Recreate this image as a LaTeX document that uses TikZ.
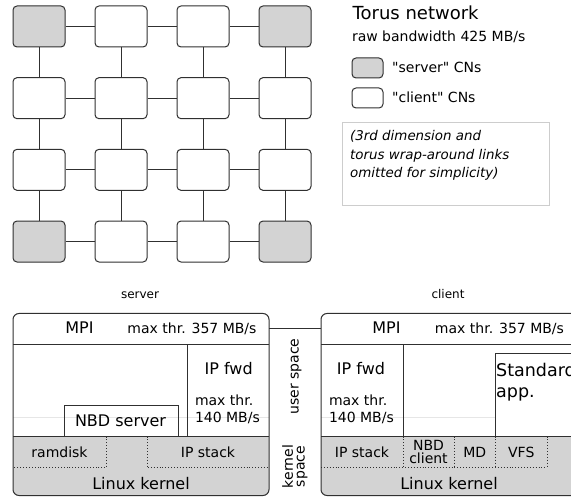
\documentclass[tikz,border=0pt]{standalone}
\usepackage{fontspec}
\setmainfont{DejaVu Sans}
% same family without the TeX quote mapping, for straight double quotes
\newfontfamily\plainsans{DejaVu Sans}
\definecolor{kern}{HTML}{D3D3D3}
\definecolor{ink}{HTML}{303030}
\definecolor{faint}{HTML}{E6E6E6}
\definecolor{notegray}{HTML}{CDCDCD}
\begin{document}
\begin{tikzpicture}[x=1pt, y=-1pt,
  cn/.style={draw=ink, line width=1pt, rounded corners=4pt, minimum width=52pt, minimum height=41pt, inner sep=0pt},
  link/.style={draw=ink, line width=1pt},
  wall/.style={draw=ink, line width=1pt},
  sep/.style={draw=ink, line width=0.9pt, dotted},
  region/.style={inner sep=0pt, outer sep=0pt},
  box/.style={draw=ink, line width=1pt, inner sep=0pt, outer sep=0pt},
  txA/.style={inner sep=0pt, font=\fontsize{16}{20}\selectfont},
  txL/.style={inner sep=0pt, font=\fontsize{17.5}{21}\selectfont},
  txB/.style={inner sep=0pt, font=\fontsize{14}{17}\selectfont},
  txQ/.style={inner sep=0pt, font=\plainsans\fontsize{14}{17}\selectfont},
  txC/.style={inner sep=0pt, font=\fontsize{12}{15}\selectfont},
  txT/.style={inner sep=0pt, font=\fontsize{18}{22}\selectfont},
  txN/.style={inner sep=0pt, font=\fontsize{13.4}{18}\selectfont\itshape},
]
\useasboundingbox (0,0) rectangle (571,497);
\clip (0,0) rectangle (571,497);

% ---- 4x4 torus grid of compute nodes ----
\foreach \r in {1,...,4}{
  \foreach \c in {1,...,4}{
    \pgfmathtruncatemacro\corner{and(or(\r==1,\r==4),or(\c==1,\c==4))}
    \ifnum\corner=1 \colorlet{cnfill}{kern}\else\colorlet{cnfill}{white}\fi
    \pgfmathsetmacro\px{39+82*(\c-1)}
    \pgfmathsetmacro\py{26.5+71.67*(\r-1)}
    \node[cn, fill=cnfill] (n\r\c) at (\px,\py) {};
  }
}
\foreach \r in {1,...,4}{
  \foreach \c [evaluate=\c as \d using int(\c+1)] in {1,2,3}{
    \draw[link] (n\r\c) -- (n\r\d);
  }
}
\foreach \c in {1,...,4}{
  \foreach \r [evaluate=\r as \s using int(\r+1)] in {1,2,3}{
    \draw[link] (n\r\c) -- (n\s\c);
  }
}

% ---- legend ----
\node[txT, anchor=base west] (title) at (352.5,19.3) {Torus network};
\node[txB, anchor=base west] (bw) at (351.8,42) {raw bandwidth 425 MB/s};
\node[cn, fill=kern, minimum width=31pt, minimum height=20pt] (keysrv) at (367.5,68) {};
\node[txQ, anchor=base west] (keysrvtx) at (392,73) {"server" CNs};
\node[cn, fill=white, minimum width=31pt, minimum height=20pt] (keycli) at (367.5,98) {};
\node[txQ, anchor=base west] (keyclitx) at (392,103) {"client" CNs};
\node[draw=notegray, line width=0.8pt, minimum width=207pt, minimum height=83pt, inner sep=0pt] (note) at (445.5,163.5) {};
\node[txN, anchor=base west] (note1) at (350,141) {(3rd dimension and};
\node[txN, anchor=base west] (note2) at (350,159.5) {torus wrap-around links};
\node[txN, anchor=base west] (note3) at (350,178) {omitted for simplicity)};

% ---- server software stack ----
\node[txC, anchor=base] (srvtitle) at (140,299) {server};
\node[region, minimum width=256pt, minimum height=182pt] (srv) at (141,404.5) {};
\begin{scope}
  \clip[rounded corners=6pt] (srv.north west) rectangle (srv.south east);
  \fill[kern] (13,436.5) rectangle (269,496);
\end{scope}
\draw[faint, line width=0.8pt] (13,417) -- (269,417);
\node[region, minimum width=256pt, minimum height=31pt] (srvmpi) at (141,329) {};
\draw[wall] (srvmpi.south west) -- (srvmpi.south east);
\node[region, minimum width=81.5pt, minimum height=92pt] (srvfwd) at (228.25,390.5) {};
\draw[wall] (srvfwd.north west) -- (srvfwd.south west);
\node[box, minimum width=114pt, minimum height=30.5pt] (srvnbd) at (121,421.25) {};
\draw[wall] (13,436.5) -- (269,436.5);
\node[region, minimum width=93pt, minimum height=31pt] (srvram) at (59.5,452) {};
\draw[sep] (srvram.north east) -- (srvram.south east) -- (srvram.south west);
\node[region, minimum width=122pt, minimum height=31pt] (srvip) at (208,452) {};
\draw[sep] (srvip.north west) -- (srvip.south west) -- (srvip.south east);
\draw[wall, rounded corners=6pt] (srv.north west) rectangle (srv.south east);

\node[txA, anchor=base] (srvmpitx) at (79.5,334) {MPI};
\node[txB, anchor=base] (srvthr) at (192,334) {max thr. 357 MB/s};
\node[txA, anchor=base] (srvfwdtx) at (228.7,375) {IP fwd};
\node[txB, anchor=base west] (srvfwd1) at (194.8,406) {max thr.};
\node[txB, anchor=base west] (srvfwd2) at (194.8,423) {140 MB/s};
\node[txA, anchor=base] (srvnbdtx) at (120.5,427) {NBD server};
\node[txB, anchor=base] (srvramtx) at (59.5,457.5) {ramdisk};
\node[txB, anchor=base] (srviptx) at (208,457.5) {IP stack};
\node[txA, anchor=base] (srvlk) at (141,489.5) {Linux kernel};

% ---- space labels between the stacks ----
\node[txB, rotate=90, anchor=base] (userspace) at (298.5,376.5) {user space};
\node[txB, rotate=90, anchor=base] (kern1) at (292.8,466.5) {kernel};
\node[txB, rotate=90, anchor=base] (kern2) at (304.7,466.5) {space};

% ---- client software stack ----
\node[txC, anchor=base] (clititle) at (448,299) {client};
\node[region, minimum width=256pt, minimum height=182pt] (cli) at (449,404.5) {};
\begin{scope}
  \clip[rounded corners=6pt] (cli.north west) rectangle (cli.south east);
  \fill[kern] (321,436.5) rectangle (577,496);
\end{scope}
\draw[faint, line width=0.8pt] (321,417) -- (495.5,417);
\node[region, minimum width=256pt, minimum height=31pt] (climpi) at (449,329) {};
\draw[wall] (climpi.south west) -- (climpi.south east);
\node[region, minimum width=82pt, minimum height=92pt] (clifwd) at (362,390.5) {};
\draw[wall] (clifwd.north east) -- (clifwd.south east);
\node[box, minimum width=100pt, minimum height=82.5pt] (cliapp) at (545.5,395.25) {};
\draw[wall] (321,436.5) -- (577,436.5);
\node[region, minimum width=82pt, minimum height=31pt] (cliip) at (362,452) {};
\node[region, minimum width=51pt, minimum height=31pt] (clinbd) at (428.5,452) {};
\node[region, minimum width=41.5pt, minimum height=31pt] (climd) at (474.75,452) {};
\node[region, minimum width=51.5pt, minimum height=31pt] (clivfs) at (521.25,452) {};
\draw[sep] (cliip.north east) -- (cliip.south east);
\draw[sep] (clinbd.north east) -- (clinbd.south east);
\draw[sep] (climd.north east) -- (climd.south east);
\draw[sep] (clivfs.north east) -- (clivfs.south east);
\draw[sep] (cliip.south west) -- (clivfs.south east);
\draw[wall, rounded corners=6pt] (cli.north west) rectangle (cli.south east);

\node[txA, anchor=base] (climpitx) at (386.5,334) {MPI};
\node[txB, anchor=base] (clithr) at (499.5,334) {max thr. 357 MB/s};
\node[txA, anchor=base] (clifwdtx) at (361,375) {IP fwd};
\node[txB, anchor=base west] (clifwd1) at (328.8,406) {max thr.};
\node[txB, anchor=base west] (clifwd2) at (328.8,423) {140 MB/s};
\node[txL, anchor=base west] (cliapp1) at (496,377) {Standard};
\node[txL, anchor=base west] (cliapp2) at (496,398) {app.};
\node[txB, anchor=base] (cliiptx) at (362,457.5) {IP stack};
\node[txB, anchor=base] (clinbd1) at (428.5,450) {NBD};
\node[txB, anchor=base] (clinbd2) at (428.5,464) {client};
\node[txB, anchor=base] (climdtx) at (474.75,457.5) {MD};
\node[txB, anchor=base] (clivfstx) at (521.25,457.5) {VFS};
\node[txA, anchor=base] (clilk) at (449,489.5) {Linux kernel};

% ---- MPI link between the two nodes ----
\draw[link] (srvmpi.east) -- (climpi.west);
\end{tikzpicture}
\end{document}
